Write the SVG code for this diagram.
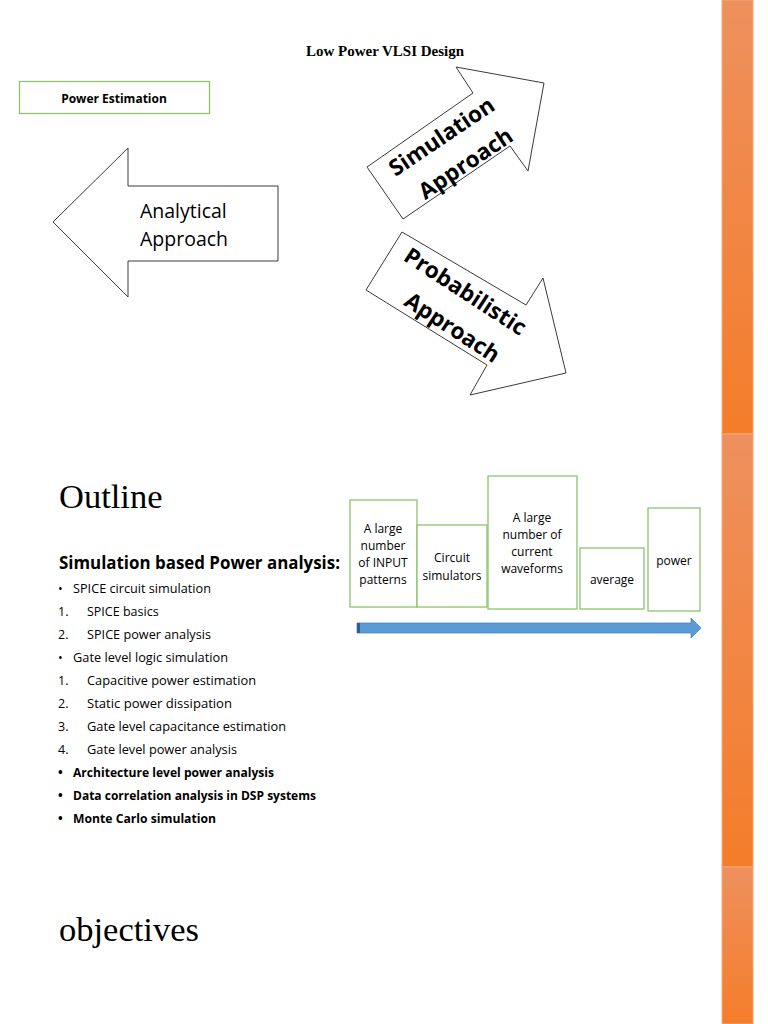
<svg xmlns="http://www.w3.org/2000/svg" width="768" height="1024" viewBox="0 0 768 1024">
<defs>
<style>
.sans{font-family:"Open Sans","Noto Sans","Liberation Sans",sans-serif;fill:#000}
.serif{font-family:"Liberation Serif","Times New Roman",serif;fill:#000}
.gbox{fill:#fff;stroke:#8cc46e;stroke-width:1.3}
.bigarrow{fill:#fff;stroke:#3a3a3a;stroke-width:1}
.item{font-size:12.5px}
.b{font-weight:bold}
.bt{font-size:12px;text-anchor:middle}
.rot{font-size:22.5px;font-weight:bold;text-anchor:middle}
</style>
<linearGradient id="og" x1="0" y1="0" x2="0" y2="1">
<stop offset="0" stop-color="#ee905e"/>
<stop offset="1" stop-color="#f47d2a"/>
</linearGradient>
</defs>
<rect width="768" height="1024" fill="#fff"/>

<g id="orange-bar">
<rect x="722" y="0" width="31" height="434" fill="url(#og)" stroke="#f6a774" stroke-width="1"/>
<rect x="722" y="434" width="31" height="433" fill="url(#og)" stroke="#f6a774" stroke-width="1"/>
<rect x="722" y="867" width="31" height="157" fill="url(#og)" stroke="#f6a774" stroke-width="1"/>
</g>

<text class="serif b" x="385" y="56" font-size="15" text-anchor="middle">Low Power VLSI Design</text>

<g id="power-estimation">
<rect class="gbox" x="19.5" y="81.5" width="190" height="32"/>
<text class="sans b" x="114" y="103" font-size="12" text-anchor="middle">Power Estimation</text>
</g>

<g id="analytical">
<polygon class="bigarrow" points="53,222 128,148 128,186 278,186 278,261 128,261 128,297"/>
<text class="sans" x="140" y="218" font-size="19.5">Analytical</text>
<text class="sans" x="140" y="246" font-size="19.5">Approach</text>
</g>

<g id="simulation">
<polygon class="bigarrow" points="367,167 473,93 456,67 544,83 528,171 510,146 403,219"/>
<text class="sans rot" transform="translate(446,143) rotate(-34)">Simulation</text>
<text class="sans rot" transform="translate(470,170) rotate(-34)">Approach</text>
</g>

<g id="probabilistic">
<polygon class="bigarrow" points="402,232 526,305 543,278 566,373 470,395 487,365 366,290"/>
<text class="sans rot" transform="translate(461,298) rotate(33)">Probabilistic</text>
<text class="sans rot" transform="translate(448,334) rotate(33)">Approach</text>
</g>

<text class="serif" x="59" y="508" font-size="34.5">Outline</text>

<text class="sans b" x="59" y="569" font-size="17" textLength="281" lengthAdjust="spacingAndGlyphs">Simulation based Power analysis:</text>

<g id="list">
<text class="sans item" x="58" y="593">•</text><text class="sans item" x="73" y="593" textLength="138" lengthAdjust="spacingAndGlyphs">SPICE circuit simulation</text>
<text class="sans item" x="58" y="616">1.</text><text class="sans item" x="87" y="616">SPICE basics</text>
<text class="sans item" x="58" y="639">2.</text><text class="sans item" x="87" y="639" textLength="124" lengthAdjust="spacingAndGlyphs">SPICE power analysis</text>
<text class="sans item" x="58" y="662">•</text><text class="sans item" x="73" y="662" textLength="155" lengthAdjust="spacingAndGlyphs">Gate level logic simulation</text>
<text class="sans item" x="58" y="685">1.</text><text class="sans item" x="87" y="685" textLength="169" lengthAdjust="spacingAndGlyphs">Capacitive power estimation</text>
<text class="sans item" x="58" y="708">2.</text><text class="sans item" x="87" y="708" textLength="145" lengthAdjust="spacingAndGlyphs">Static  power dissipation</text>
<text class="sans item" x="58" y="731">3.</text><text class="sans item" x="87" y="731" textLength="199" lengthAdjust="spacingAndGlyphs">Gate level capacitance estimation</text>
<text class="sans item" x="58" y="754">4.</text><text class="sans item" x="87" y="754" textLength="150" lengthAdjust="spacingAndGlyphs">Gate level power analysis</text>
<text class="sans item b" x="58" y="777">•</text><text class="sans item b" x="73" y="777" textLength="201" lengthAdjust="spacingAndGlyphs">Architecture level power analysis</text>
<text class="sans item b" x="58" y="800">•</text><text class="sans item b" x="73" y="800" textLength="243" lengthAdjust="spacingAndGlyphs">Data correlation analysis in DSP systems</text>
<text class="sans item b" x="58" y="823">•</text><text class="sans item b" x="73" y="823" textLength="143" lengthAdjust="spacingAndGlyphs">Monte Carlo simulation</text>
</g>

<g id="box-input">
<rect class="gbox" x="350" y="500" width="67" height="107"/>
<text class="sans bt" x="383" y="533">A large</text>
<text class="sans bt" x="383" y="550">number</text>
<text class="sans bt" x="383" y="567">of INPUT</text>
<text class="sans bt" x="383" y="584">patterns</text>
</g>
<g id="box-circuit">
<rect class="gbox" x="417" y="525" width="70" height="82"/>
<text class="sans bt" x="452" y="562">Circuit</text>
<text class="sans bt" x="452" y="580">simulators</text>
</g>
<g id="box-waveforms">
<rect class="gbox" x="488" y="476" width="89" height="133"/>
<text class="sans bt" x="532" y="522">A large</text>
<text class="sans bt" x="532" y="539">number of</text>
<text class="sans bt" x="532" y="556">current</text>
<text class="sans bt" x="532" y="573">waveforms</text>
</g>
<g id="box-average">
<rect class="gbox" x="580" y="548" width="64" height="61"/>
<text class="sans bt" x="612" y="584">average</text>
</g>
<g id="box-power">
<rect class="gbox" x="648" y="508" width="52" height="103"/>
<text class="sans bt" x="674" y="565">power</text>
</g>

<g id="connectors">
<polygon points="357,623 691,623 691,618 701,628 691,638 691,633 357,633" fill="#5b9bd5" stroke="#4a86c0" stroke-width="0.8"/>
<rect x="357" y="623" width="3" height="10" fill="#2f5f90"/>
</g>

<text class="serif" x="59" y="941" font-size="34.5">objectives</text>
</svg>
